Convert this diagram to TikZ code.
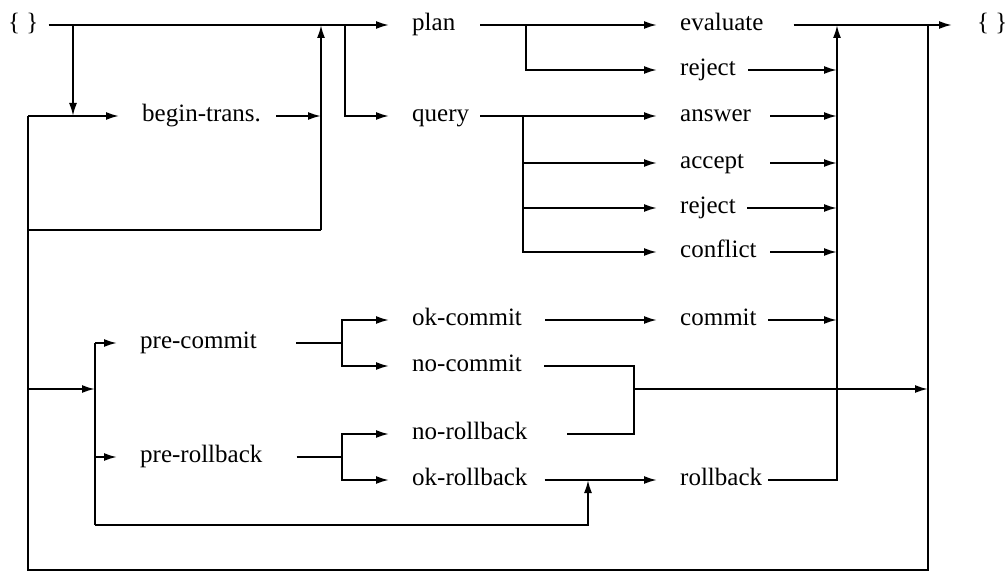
\documentclass[tikz,border=0pt]{standalone}
\usepackage{fontspec}
\setmainfont{Liberation Serif}
\usetikzlibrary{arrows.meta}
\begin{document}
\fontsize{25}{30}\selectfont
\begin{tikzpicture}[x=1pt,y=-1pt,
  lbl/.style={inner sep=0pt, anchor=mid west, font=\fontsize{25}{30}\selectfont},
  ln/.style={line width=1.9pt},
  arr/.style={ln, -{Latex[length=13pt,width=8pt]}},
  into/.style={arr, shorten >=23pt},
]
\useasboundingbox (0,0) rectangle (1006,572);
% text nodes
\node[lbl] (lb) at (8,25) {\{~\}};
\node[lbl] (rb) at (977,25) {\{~\}};
\node[lbl] (plan) at (412,25) {plan};
\node[lbl] (begin) at (142,116) {begin-trans.};
\node[lbl] (query) at (412,116) {query};
\node[lbl] (evaluate) at (680,25) {evaluate};
\node[lbl] (reject1) at (680,70) {reject};
\node[lbl] (answer) at (680,116) {answer};
\node[lbl] (accept) at (680,163) {accept};
\node[lbl] (reject2) at (680,208) {reject};
\node[lbl] (conflict) at (680,252) {conflict};
\node[lbl] (precommit) at (140,343) {pre-commit};
\node[lbl] (prerollback) at (140,457) {pre-rollback};
\node[lbl] (okcommit) at (412,320) {ok-commit};
\node[lbl] (nocommit) at (412,366) {no-commit};
\node[lbl] (norollback) at (412,434) {no-rollback};
\node[lbl] (okrollback) at (412,480) {ok-rollback};
\node[lbl] (commit) at (680,320) {commit};
\node[lbl] (rollback) at (680,480) {rollback};
% junctions
\coordinate (ja) at (73,25);
\coordinate (jb) at (321,25);
\coordinate (jbB) at (321,230);
\coordinate (jc) at (345,25);
\coordinate (jl1) at (28,116);
\coordinate (jlB) at (28,230);
\coordinate (jlM) at (28,389);
\coordinate (jlBot) at (28,570);
\coordinate (jrBot) at (928,570);
\coordinate (jrTop) at (928,25);
\coordinate (jrMid) at (928,389);
\coordinate (jp) at (526,25);
\coordinate (jq) at (523,116);
\coordinate (cT) at (837,25);
\coordinate (jvT) at (95,343);
\coordinate (jvB) at (95,525);
\coordinate (jrb) at (588,525);
\coordinate (bc) at (342,343);
\coordinate (br) at (342,457);
\coordinate (mg) at (634,389);
% top part
\draw[into, shorten <=10pt] (lb.mid east) -- (plan.mid west);
\draw[arr] (ja) -- (ja |- begin.mid west);
\draw[into] (jl1) -- (begin.mid west);
\draw[arr, shorten <=15pt] (begin.mid east) -- (jb |- begin.mid east);
\draw[ln] (jlB) -- (jbB);
\draw[arr] (jbB) -- (jb);
\draw[into] (jc) |- (query.mid west);
\draw[ln] (jl1) -- (jlBot) -- (jrBot) -- (jrTop);
% plan / query branches
\draw[into, shorten <=25pt] (plan.mid east) -- (evaluate.mid west);
\draw[into] (jp) |- (reject1.mid west);
\draw[into, shorten <=11pt] (query.mid east) -- (answer.mid west);
\draw[into] (jq) |- (accept.mid west);
\draw[into] (jq) |- (reject2.mid west);
\draw[into] (jq) |- (conflict.mid west);
% collector
\draw[arr, shorten <=12.5pt] (reject1.mid east) -- (cT |- reject1.mid east);
\draw[arr, shorten <=19pt] (answer.mid east) -- (cT |- answer.mid east);
\draw[arr, shorten <=26pt] (accept.mid east) -- (cT |- accept.mid east);
\draw[arr, shorten <=11.5pt] (reject2.mid east) -- (cT |- reject2.mid east);
\draw[arr, shorten <=13.6pt] (conflict.mid east) -- (cT |- conflict.mid east);
\draw[arr, shorten <=11.6pt] (commit.mid east) -- (cT |- commit.mid east);
\draw[arr, shorten <=6pt] (rollback.mid east) -| (cT);
\draw[arr, shorten <=30pt, shorten >=25pt] (evaluate.mid east) -- (rb.mid west);
% lower part
\draw[arr] (jlM) -- (jvT |- jlM);
\draw[ln] (jvT) -- (jvB);
\draw[into] (jvT) -- (precommit.mid west);
\draw[into] (jvB |- prerollback.mid west) -- (prerollback.mid west);
\draw[arr] (jvB) -- (jrb) -- (jrb |- okrollback.mid east);
\draw[ln, shorten <=39pt] (precommit.mid east) -- (bc);
\draw[into] (bc) |- (okcommit.mid west);
\draw[into] (bc) |- (nocommit.mid west);
\draw[ln, shorten <=34pt] (prerollback.mid east) -- (br);
\draw[into] (br) |- (norollback.mid west);
\draw[into] (br) |- (okrollback.mid west);
\draw[into, shorten <=23pt] (okcommit.mid east) -- (commit.mid west);
\draw[into, shorten <=17pt] (okrollback.mid east) -- (rollback.mid west);
\draw[ln, shorten <=22pt, shorten >=39pt] (nocommit.mid east) -| (mg) |- (norollback.mid east);
\draw[arr] (mg) -- (jrMid);
\end{tikzpicture}
\end{document}
